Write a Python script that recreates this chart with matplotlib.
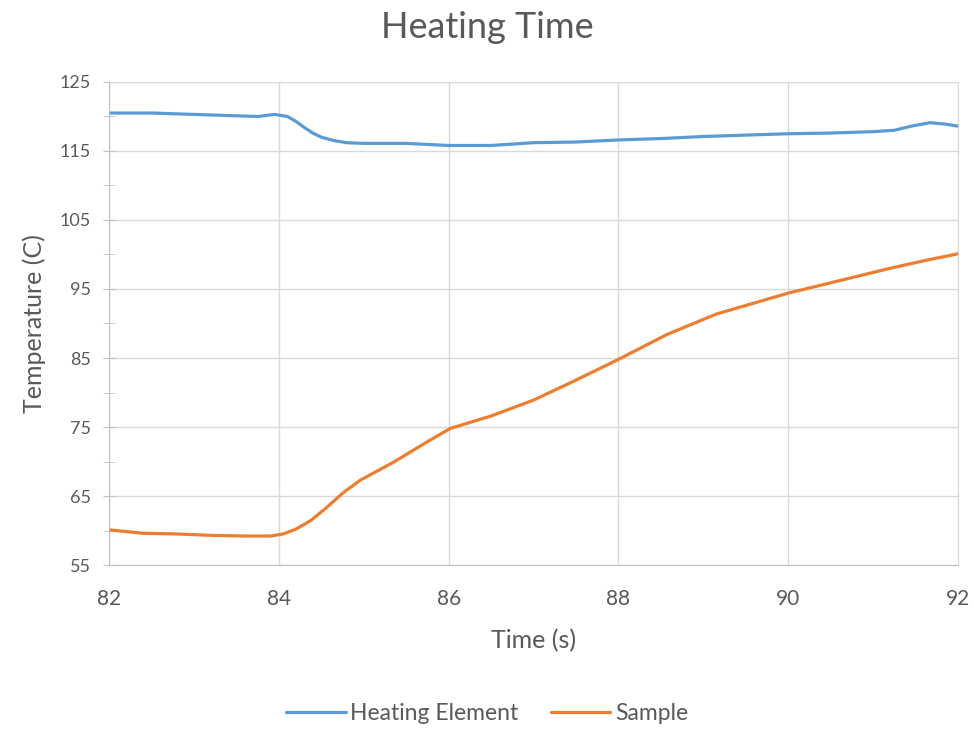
import matplotlib

matplotlib.use("Agg")
import matplotlib.pyplot as plt
from matplotlib.ticker import MultipleLocator

plt.rcParams["font.family"] = ["Lato", "DejaVu Sans"]

# Okunan değerler (yaklaşık)
heat_t = [82.0, 82.5, 83.0, 83.5, 83.75, 83.95, 84.1, 84.2, 84.3, 84.4, 84.5, 84.65,
          84.8, 85.0, 85.5, 86.0, 86.5, 87.0, 87.5, 88.0, 88.5, 89.0, 89.5, 90.0,
          90.5, 91.0, 91.25, 91.45, 91.67, 91.85, 92.0]
heat_temp = [120.5, 120.5, 120.3, 120.1, 120.0, 120.3, 120.0, 119.3, 118.4, 117.6, 117.0, 116.5,
             116.2, 116.1, 116.1, 115.8, 115.8, 116.2, 116.3, 116.6, 116.8, 117.1, 117.3, 117.5,
             117.6, 117.8, 118.0, 118.6, 119.1, 118.9, 118.6]

sample_t = [82.0, 82.4, 82.8, 83.2, 83.6, 83.9, 84.05, 84.2, 84.37, 84.55, 84.76, 84.96,
            85.35, 85.74, 86.02, 86.5, 87.0, 87.5, 88.0, 88.57, 89.16, 90.0,
            90.6, 91.2, 91.6, 92.0]
sample_temp = [60.1, 59.6, 59.5, 59.3, 59.2, 59.2, 59.5, 60.2, 61.4, 63.2, 65.5, 67.3,
               69.9, 72.8, 74.8, 76.6, 78.9, 81.8, 84.8, 88.4, 91.4, 94.4,
               96.2, 98.0, 99.1, 100.1]

gray_text = "#595959"
grid_col = "#d9d9d9"

fig = plt.figure(figsize=(9.74, 7.3), dpi=100)
ax = fig.add_axes([0.112, 0.226, 0.8716, 0.6617])

ax.plot(heat_t, heat_temp, color="#5B9BD5", linewidth=2.3, label="Heating Element",
        solid_capstyle="round", solid_joinstyle="round")
ax.plot(sample_t, sample_temp, color="#ED7D31", linewidth=2.3, label="Sample",
        solid_capstyle="round", solid_joinstyle="round")

ax.set_xlim(82, 92)
ax.set_ylim(55, 125)
ax.xaxis.set_major_locator(MultipleLocator(2))
ax.set_yticks(range(55, 126, 10))
ax.set_yticks(range(60, 125, 10), minor=True)

ax.grid(True, which="major", color=grid_col, linewidth=1.0)
ax.set_axisbelow(True)

for side in ["top", "right"]:
    ax.spines[side].set_color(grid_col)
for side in ["left", "bottom"]:
    ax.spines[side].set_color("#bfbfbf")

ax.tick_params(axis="x", length=0, pad=17, labelsize=15, labelcolor=gray_text)
ax.tick_params(axis="y", which="both", direction="inout", length=8, color="#bfbfbf",
               pad=9, labelsize=13, labelcolor=gray_text)

ax.set_xlabel("Time (s)", fontsize=18, color=gray_text, labelpad=15)
ax.set_ylabel("Temperature (C)", fontsize=18, color=gray_text, labelpad=10)
fig.text(0.5, 0.963, "Heating Time", ha="center", va="center", fontsize=26, color=gray_text)

fig.legend(loc="center", bbox_to_anchor=(0.5, 0.023), ncol=2, frameon=False,
           fontsize=16.5, labelcolor=gray_text, handlelength=2.6, handletextpad=0.2,
           columnspacing=1.4)

fig.savefig("out.png", dpi=100)
